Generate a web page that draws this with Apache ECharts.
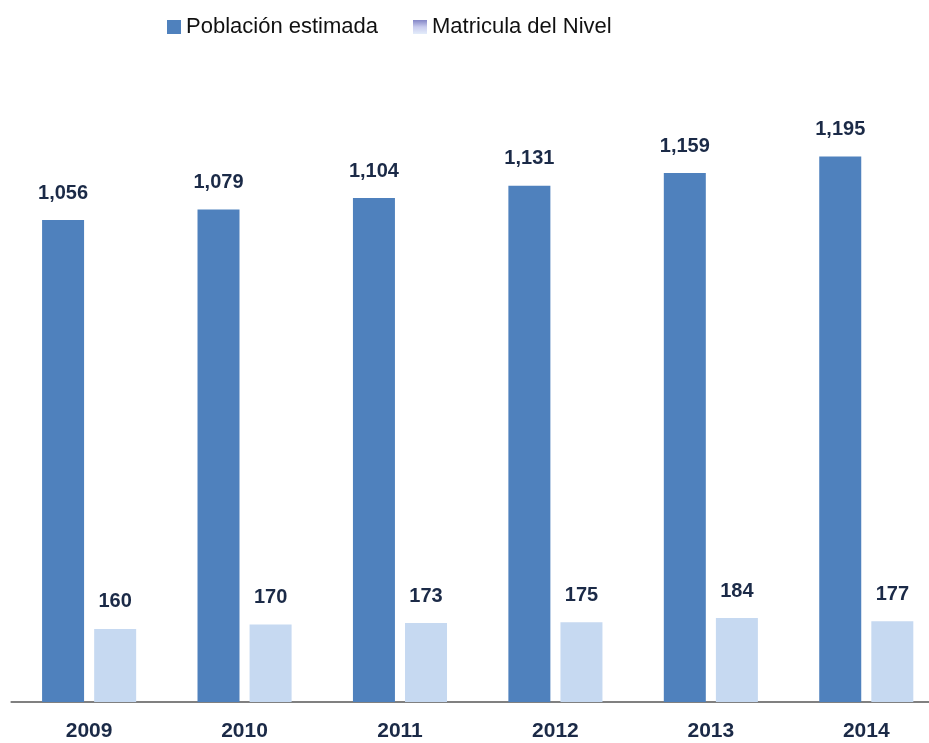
<!DOCTYPE html>
<html><head><meta charset="utf-8">
<script src="https://cdn.jsdelivr.net/npm/echarts@6/dist/echarts.min.js"></script>
<style>html,body{margin:0;padding:0;background:#fff;overflow:hidden}#c{width:944px;height:743px}</style>
</head><body><div id="c"></div>
<script>
const categories = ['2009','2010','2011','2012','2013','2014'];
const poblacion = [1056, 1079, 1104, 1131, 1159, 1195];
const matricula = [160, 170, 173, 175, 184, 177];
const seriesNames = ['Población estimada', 'Matricula del Nivel'];

const FONT = '"Liberation Sans Narrow", "Arial Narrow", "Liberation Sans", sans-serif';
const chart = echarts.init(document.getElementById('c'), null, {renderer:'canvas'});
const fmt = p => p.value.toLocaleString('en-US');
const lbl = {show:true, position:'top', distance:17, formatter:fmt, fontFamily:FONT, fontSize:20, fontWeight:'bold', color:'#1B2A47'};
chart.setOption({
  animation:false,
  legend:{
    left:162, top:11, itemWidth:14, itemHeight:14, itemGap:35,
    textStyle:{fontFamily:FONT, fontSize:22, color:'#111'},
    data:[
      {name:seriesNames[0], icon:'rect'},
      {name:seriesNames[1], icon:'rect', itemStyle:{color:new echarts.graphic.LinearGradient(0,0,0,1,[{offset:0,color:'#8385C6'},{offset:0.5,color:'#C9CCEE'},{offset:1,color:'#E3ECFA'}])}}
    ]
  },
  grid:{left:11.4, right:0, top:63, bottom:41, containLabel:false},
  xAxis:{
    type:'category', data:categories,
    axisLine:{lineStyle:{color:'#808080', width:2}},
    axisTick:{show:false},
    axisLabel:{fontFamily:FONT, fontSize:21, fontWeight:'bold', color:'#1B2A47', margin:19}
  },
  yAxis:{type:'value', min:0, max:1400, show:false, splitLine:{show:false}},
  series:[
    {name:seriesNames[0], type:'bar', data:poblacion, barWidth:42, barGap:'24%',
     itemStyle:{color:'#4F81BD'}, label:lbl},
    {name:seriesNames[1], type:'bar', data:matricula, barWidth:42,
     itemStyle:{color:'#C6D9F1'}, label:lbl}
  ]
});
</script></body></html>
